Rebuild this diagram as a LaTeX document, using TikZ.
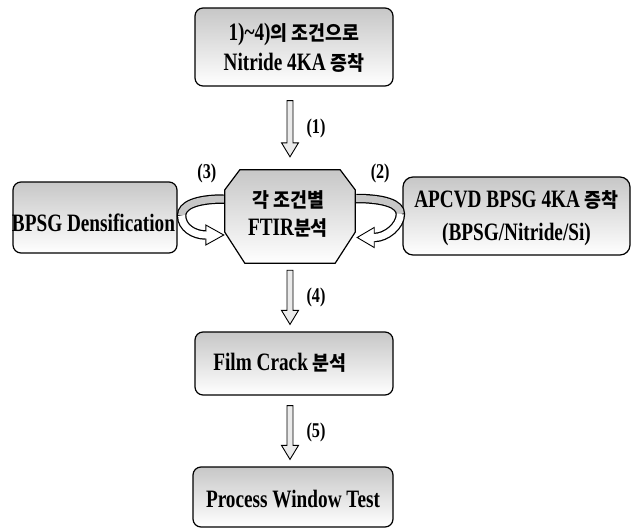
\documentclass[tikz,border=0pt]{standalone}
\usepackage{fontspec}
\setmainfont{Liberation Serif}[FakeStretch=0.77]
\newfontfamily\krfont{Noto Sans CJK KR}[FakeStretch=0.92]
\usetikzlibrary{calc}
\newcommand\kor[1]{{\krfont\fontsize{20}{24}\selectfont #1}}
\newcommand\vArrow[2]{%
  \draw[harrow] ($(#1)+(-3,0)$) -- ($(#2)+(-3,-14)$) -- ($(#2)+(-8.5,-14)$) -- (#2)
    -- ($(#2)+(8.5,-14)$) -- ($(#2)+(3,-14)$) -- ($(#1)+(3,0)$) -- cycle;}
\begin{document}
\begin{tikzpicture}[x=1pt,y=-1pt,
  box/.style={draw, line width=1.2pt, rounded corners=8pt, top color=black!22, middle color=black!5, bottom color=white, inner sep=0pt},
  txt/.style={font=\bfseries\fontsize{25}{30}\selectfont, align=center, inner sep=0pt},
  lbl/.style={font=\bfseries\fontsize{21}{24}\selectfont, inner sep=0pt},
  harrow/.style={line width=0.9pt, draw=black, fill=black!8},
  bandout/.style={line width=9.5pt, draw=black},
  bandin/.style={line width=7pt},
  headstyle/.style={line width=0.9pt, draw=black, fill=white, line join=miter},
]
\fill[white] (0,0) rectangle (632,530);
\useasboundingbox (0,0) rectangle (632,530);

% boxes
\node[box, minimum width=198pt, minimum height=78pt] (top) at (294,47) {};
\node[box, minimum width=164pt, minimum height=71pt] (lbox) at (95,217.5) {};
\node[box, minimum width=227pt, minimum height=78pt, rounded corners=10pt] (rbox) at (516.5,216) {};
\node[box, minimum width=198pt, minimum height=63pt] (film) at (294,363.5) {};
\node[box, minimum width=200pt, minimum height=60pt] (proc) at (293,497) {};
\node[minimum width=130pt, minimum height=93pt, inner sep=0pt] (oct) at (290,216.5) {};
\path[draw, line width=1.2pt, top color=black!22, middle color=black!5, bottom color=white]
  ($(oct.north west)+(15,0)$) -- ($(oct.north east)+(-15,0)$) -- ($(oct.north east)+(0,20)$)
  -- ($(oct.south east)+(0,-31)$) -- ($(oct.south east)+(-20,0)$) -- ($(oct.south west)+(20,0)$)
  -- ($(oct.south west)+(0,-31)$) -- ($(oct.north west)+(0,20)$) -- cycle;

% texts
\node[txt] (toptext) at ($(top.center)+(0,1)$) {1)\textasciitilde4)\kor{의 조건으로}\\Nitride 4KA \kor{증착}};
\node[txt] (ltext) at ($(lbox.center)+(-1.5,5.5)$) {BPSG Densification};
\node[txt, font=\bfseries\fontsize{25}{33}\selectfont] (rtext) at ($(rbox.center)+(0,2.5)$) {APCVD BPSG 4KA \kor{증착}\\(BPSG/Nitride/Si)};
\node[txt, font=\bfseries\fontsize{25}{28}\selectfont] (octtext) at ($(oct.center)+(-2,-2)$) {\kor{각 조건별}\\FTIR\kor{분석}};
\node[txt] (filmtext) at ($(film.center)+(-14,-1)$) {Film Crack \kor{분석}};
\node[txt] (proctext) at ($(proc.center)+(0,2)$) {Process Window Test};

% straight hollow arrows
\coordinate (a1s) at ($(top.south -| oct.north)+(0,14)$);
\coordinate (a1e) at ($(oct.north)+(0,-13)$);
\vArrow{a1s}{a1e}
\node[lbl] (l1) at ($($(a1s)!0.5!(a1e)$)+(26,0)$) {(1)};

\coordinate (a4s) at ($(oct.south)+(0,7)$);
\coordinate (a4e) at ($(film.north -| oct.south)+(0,-7)$);
\vArrow{a4s}{a4e}
\node[lbl] (l4) at ($($(a4s)!0.5!(a4e)$)+(26,0)$) {(4)};

\coordinate (a5s) at ($(film.south -| oct.south)+(0,10)$);
\coordinate (a5e) at ($(proc.north -| oct.south)+(0,-7)$);
\vArrow{a5s}{a5e}
\node[lbl] (l5) at ($($(a5s)!0.5!(a5e)$)+(26,0)$) {(5)};

% curved hollow arrows, left
\coordinate (ls) at ($(oct.west)+(-1,-17.5)$);
\coordinate (lm) at ($(lbox.east)+(4,-2)$);
\coordinate (lb) at ($(oct.west)+(-19,18.5)$);
\coordinate (lt) at ($(oct.west)+(-1,18.5)$);
\draw[bandout] (ls) .. controls +(-28,0) and +(0,-10) .. (lm) .. controls +(0,12) and +(-12,0) .. (lb);
\draw[headstyle] ($(lb)+(0,-10)$) -- (lt) -- ($(lb)+(0,10)$) -- cycle;
\draw[bandin, draw=black!22] (ls) .. controls +(-28,0) and +(0,-10) .. (lm);
\draw[bandin, draw=white] (lm) .. controls +(0,12) and +(-12,0) .. (lb) -- ($(lb)+(1.5,0)$);

% curved hollow arrows, right
\coordinate (rs) at ($(oct.east)+(1,-18)$);
\coordinate (rm) at ($(rbox.west)+(-2,-2)$);
\coordinate (rb) at ($(oct.east)+(19,21)$);
\coordinate (rt) at ($(oct.east)+(2,21)$);
\draw[bandout] (rs) .. controls +(28,0) and +(0,-10) .. (rm) .. controls +(0,12) and +(12,0) .. (rb);
\draw[headstyle] ($(rb)+(0,-10)$) -- (rt) -- ($(rb)+(0,10)$) -- cycle;
\draw[bandin, draw=black!22] (rs) .. controls +(28,0) and +(0,-10) .. (rm);
\draw[bandin, draw=white] (rm) .. controls +(0,12) and +(12,0) .. (rb) -- ($(rb)+(-1.5,0)$);

\node[lbl] (l3) at ($(oct.north west)+(-18,4)$) {(3)};
\node[lbl] (l2) at ($(oct.north east)+(25,4)$) {(2)};
\end{tikzpicture}
\end{document}
